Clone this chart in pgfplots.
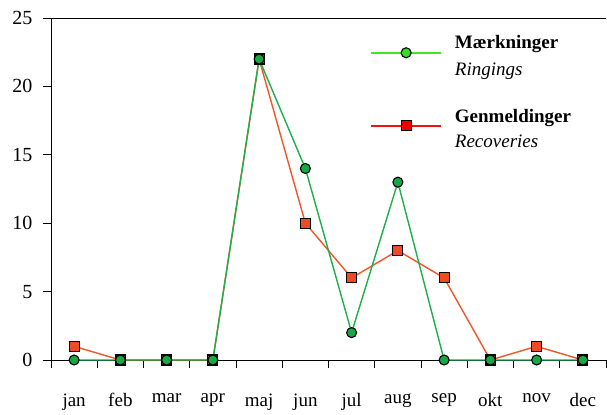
\documentclass[border=0pt]{standalone}
\usepackage{pgfplots}
\pgfplotsset{compat=1.18}
\usepackage{fontspec}
\setmainfont{Liberation Serif}
\usetikzlibrary{calc}
\definecolor{pgreen}{HTML}{1DAF4A}
\definecolor{pgreenfill}{HTML}{16A844}
\definecolor{pred}{HTML}{F0562A}
\definecolor{predfill}{HTML}{EE4A24}
\definecolor{lgreen}{HTML}{3CE81E}
\definecolor{lgreenfill}{HTML}{33DD22}
\definecolor{lred}{HTML}{EE1111}
\definecolor{lredfill}{HTML}{EE0000}
\begin{document}
\begin{tikzpicture}
\begin{axis}[name=ax, scale only axis, width=555pt, height=342pt,
  xmin=-0.5, xmax=11.5, ymin=0, ymax=25,
  axis lines*=left, axis line style={line width=0.9pt, -},
  xtick={0,...,11},
  xticklabels={jan,feb,mar,apr,maj,jun,jul,aug,sep,okt,nov,dec},
  major x tick style={draw=none},
  minor xtick={-0.5,0.5,...,11.5},
  ytick={0,5,...,25},
  tick align=outside, major tick length=8pt, minor tick length=8pt,
  tick style={black, line width=0.9pt},
  tick label style={font=\fontsize{19}{22}\selectfont},
  xticklabel style={yshift=-22pt},
  yticklabel style={xshift=-7pt, font=\fontsize{20}{22}\selectfont},
  /pgf/number format/assume math mode=true,
  clip=false,
  legend cell align=left,
  legend image code/.code={\draw[mark repeat=2,mark phase=2,#1] plot coordinates {(0pt,-5pt) (35pt,-5pt) (70pt,-5pt)};},
  legend style={at={(rel axis cs:0.575,0.953)}, anchor=north west, draw=none, fill=none,
    inner sep=0pt, column sep=13pt, row sep=0pt,
    nodes={inner sep=0pt, font=\fontsize{19}{22}\selectfont}},
]
\addplot[forget plot, color=pred, line width=1.4pt, mark=square*, mark size=5pt,
  mark options={fill=predfill, draw=black, line width=1.1pt, solid}]
  coordinates {(0,1) (1,0) (2,0) (3,0) (4,22) (5,10) (6,6) (7,8) (8,6) (9,0) (10,1) (11,0)};
\addplot[forget plot, color=pgreen, line width=1.4pt, mark=*, mark size=5pt,
  mark options={fill=pgreenfill, draw=black, line width=1.1pt, solid}]
  coordinates {(0,0) (1,0) (2,0) (3,0) (4,22) (5,14) (6,2) (7,13) (8,0) (9,0) (10,0) (11,0)};
\draw[line width=0.9pt] (rel axis cs:0,1) -- (rel axis cs:1,1);
\addlegendimage{color=lgreen, line width=1.6pt, mark=*, mark size=5pt,
  mark options={fill=lgreenfill, draw=black, line width=1.1pt}}
\addlegendentry[text height=14pt, text depth=13pt]{\textbf{Mærkninger}}
\addlegendimage{empty legend}
\addlegendentry[text height=14pt, text depth=33pt]{\textit{Ringings}}
\addlegendimage{color=lred, line width=1.6pt, mark=square*, mark size=5pt,
  mark options={fill=lredfill, draw=black, line width=1.1pt}}
\addlegendentry[text height=14pt, text depth=11pt]{\textbf{Genmeldinger}}
\addlegendimage{empty legend}
\addlegendentry[text height=14pt, text depth=5pt]{\textit{Recoveries}}
\end{axis}
\path ($(ax.south west)+(-51pt,-53pt)$) rectangle ($(ax.north east)+(1pt,18pt)$);
\end{tikzpicture}
\end{document}
